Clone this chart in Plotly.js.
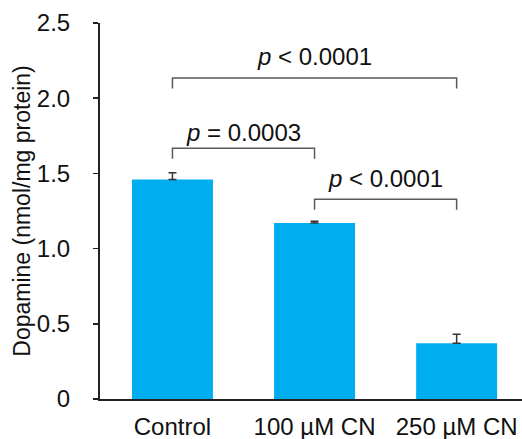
<!DOCTYPE html>
<html>
<head>
<meta charset="utf-8">
<script src="https://cdn.plot.ly/plotly-3.0.1.min.js"></script>
<style>html,body{margin:0;padding:0;background:#fff;}#chart{width:522px;height:439px;}</style>
</head>
<body>
<div id="chart"></div>
<script>
// Data
const categories = ["Control", "100 µM CN", "250 µM CN"];
const dopamine = [1.46, 1.17, 0.37];
const sem = [0.045, 0.012, 0.06];
const yTickVals = [0, 0.5, 1.0, 1.5, 2.0, 2.5];
const yTickText = ["0", "0.5", "1.0", "1.5", "2.0", "2.5"];
// Pairwise comparisons (category indices), bracket heights and labels
const compFrom = [0, 0, 1];
const compTo = [2, 1, 2];
const bracketY = [2.135, 1.667, 1.328];
const compLabels = ["<i>p</i> &lt; 0.0001", "<i>p</i> = 0.0003", "<i>p</i> &lt; 0.0001"];

const FONT = "Liberation Sans, Arial, sans-serif";
const FS = 24;
const legDrop = 0.07;
const labelShift = [21, 16, 21];

const shapes = [];
const annotations = [];
for (let i = 0; i < compFrom.length; i++) {
  const x0 = compFrom[i], x1 = compTo[i], y = bracketY[i];
  shapes.push({
    type: "path", xref: "x", yref: "y",
    path: `M ${x0} ${y - legDrop} L ${x0} ${y} L ${x1} ${y} L ${x1} ${y - legDrop}`,
    line: {color: "#5a5a5a", width: 1.5}
  });
  annotations.push({
    xref: "x", yref: "y", x: (x0 + x1) / 2, y: y, yshift: labelShift[i],
    text: compLabels[i], showarrow: false, xanchor: "center", yanchor: "middle",
    font: {family: FONT, size: FS, color: "#111"}
  });
}

const trace = {
  type: "bar",
  x: [0, 1, 2],
  y: dopamine,
  width: 0.57,
  marker: {color: "#00AEEF", line: {width: 0}},
  error_y: {type: "data", symmetric: false, array: sem, arrayminus: [0, 0, 0],
            color: "#333", thickness: 1.5, width: 4},
  hoverinfo: "none"
};

const layout = {
  width: 522, height: 439,
  margin: {l: 100, r: 0, t: 23, b: 40},
  paper_bgcolor: "#fff", plot_bgcolor: "#fff",
  showlegend: false,
  font: {family: FONT, size: FS, color: "#111"},
  xaxis: {
    range: [-0.51, 2.46], tickvals: [0, 1, 2], ticktext: categories,
    showgrid: false, zeroline: false, showline: true, linecolor: "#222", linewidth: 2,
    ticks: "", ticklabelstandoff: 5, tickfont: {family: FONT, size: FS, color: "#111"}
  },
  yaxis: {
    range: [0, 2.5], tickvals: yTickVals, ticktext: yTickText,
    showgrid: false, zeroline: false, showline: true, linecolor: "#222", linewidth: 2,
    ticks: "outside", ticklen: 5, tickwidth: 1.5, tickcolor: "#222",
    ticklabelstandoff: 18, tickfont: {family: FONT, size: FS, color: "#111"},
    title: {text: "Dopamine (nmol/mg protein)", font: {family: FONT, size: 23, color: "#111"}, standoff: 0}
  },
  shapes: shapes,
  annotations: annotations
};

Plotly.newPlot("chart", [trace], layout, {staticPlot: true, displayModeBar: false});
</script>
</body>
</html>
